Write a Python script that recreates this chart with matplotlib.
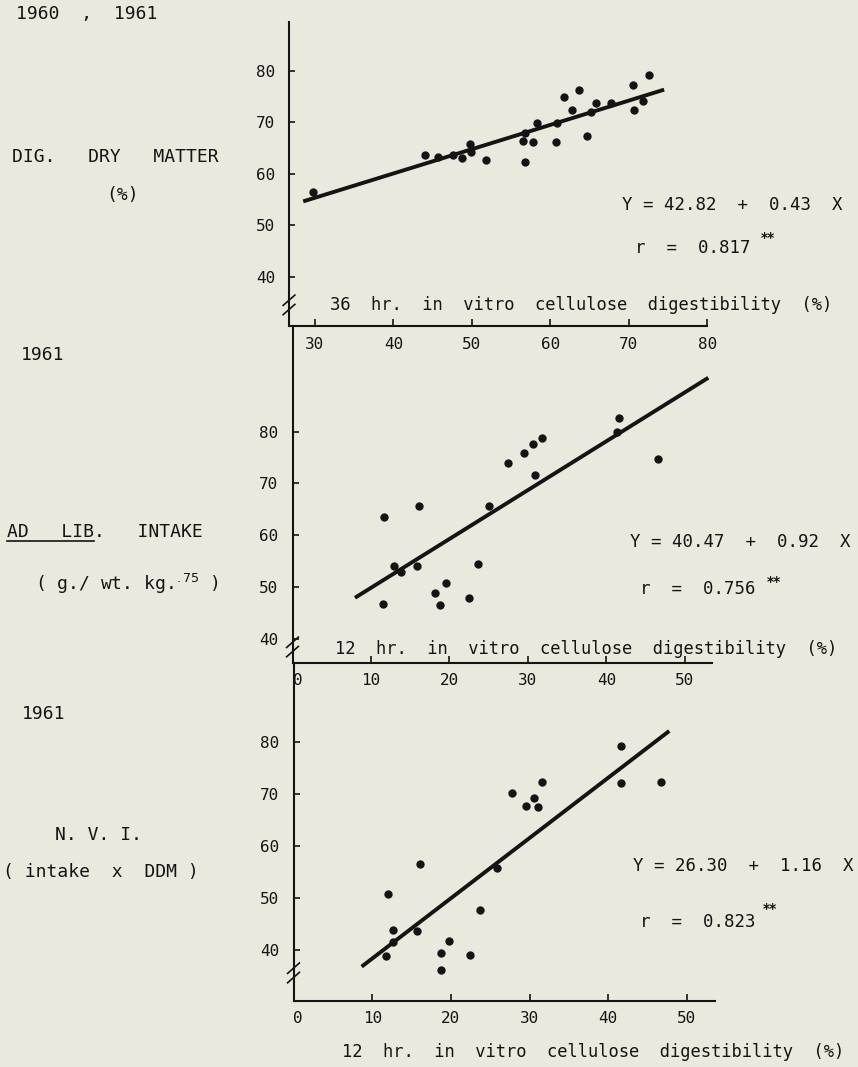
import matplotlib
matplotlib.use('Agg')
import matplotlib.pyplot as plt
from matplotlib.lines import Line2D

plt.rcParams['font.family'] = ['DejaVu Sans Mono', 'DejaVu Sans']

# ---------------- data ----------------
# Panel 1: DIG. DRY MATTER vs 36 hr in vitro cellulose digestibility
ddm_x = [29.8, 44.0, 45.7, 47.6, 48.8, 49.8, 49.85, 51.8, 56.5, 56.8, 56.8, 57.8, 58.3,
         60.7, 60.8, 61.7, 62.8, 63.7, 64.7, 65.2, 65.8, 67.7, 70.5, 70.6, 71.8, 72.6]
ddm_y = [56.4, 63.6, 63.2, 63.7, 63.1, 65.8, 64.2, 62.6, 66.3, 62.2, 67.9, 66.1, 69.8,
         66.1, 69.8, 74.95, 72.4, 76.2, 67.3, 71.9, 73.8, 73.7, 77.2, 72.4, 74.1, 79.1]
ddm_fit_x = [28.5, 74.5]
ddm_fit_y = [54.6, 76.3]

# Panel 2: AD LIB. INTAKE vs 12 hr in vitro cellulose digestibility
intake_x = [11.7, 11.57, 12.9, 13.8, 16.1, 15.9, 18.2, 18.8, 19.6, 22.5, 23.6, 25.0,
            27.4, 29.5, 30.6, 31.8, 30.9, 41.6, 41.3, 46.6]
intake_y = [63.5, 46.7, 54.1, 52.9, 65.7, 54.0, 48.8, 46.6, 50.7, 47.8, 54.4, 65.6,
            73.9, 75.9, 77.7, 78.8, 71.6, 82.6, 80.0, 74.7]
intake_fit_x = [7.96, 52.97]
intake_fit_y = [47.9, 90.4]

# Panel 3: N.V.I. vs 12 hr in vitro cellulose digestibility
nvi_x = [11.97, 16.07, 12.6, 12.6, 11.75, 15.65, 18.7, 18.8, 19.76, 22.4, 23.7, 25.8,
         27.8, 29.6, 30.6, 31.07, 31.6, 41.65, 41.6, 46.7]
nvi_y = [50.7, 56.6, 43.8, 41.6, 38.9, 43.7, 39.4, 36.2, 41.7, 39.1, 47.6, 55.7,
         70.2, 67.7, 69.25, 67.4, 72.3, 79.2, 72.1, 72.3]
nvi_fit_x = [8.66, 47.75]
nvi_fit_y = [36.8, 82.05]

y_ticks = [40, 50, 60, 70, 80]
x_ticks_36 = [30, 40, 50, 60, 70, 80]
x_ticks_12 = [0, 10, 20, 30, 40, 50]

eq1 = "Y = 42.82  +  0.43  X"
eq2 = "Y = 40.47  +  0.92  X"
eq3 = "Y = 26.30  +  1.16  X"
r1 = "r  =  0.817"
r2 = "r  =  0.756"
r3 = "r  =  0.823"
title36 = ["36", "hr.", "in", "vitro", "cellulose", "digestibility", "(%)"]
title12 = ["12", "hr.", "in", "vitro", "cellulose", "digestibility", "(%)"]

# ---------------- figure ----------------
W, H = 858, 1067
BG = '#ebe9dd'
INK = '#141414'
fig = plt.figure(figsize=(W / 100, H / 100), dpi=100, facecolor=BG)
renderer = fig.canvas.get_renderer()


def rect(left, right, top, bottom):
    return [left / W, 1 - bottom / H, (right - left) / W, (bottom - top) / H]


def fx(px):
    return px / W


def fy(py):
    return 1 - py / H


def fit_text(x0, x1, py, words, kmax=3, **kw):
    """Join words with the number of spaces that best fills x0..x1 (pixels)."""
    target = x1 - x0
    best = None
    for k in range(1, kmax + 1):
        s = (' ' * k).join(words)
        t = fig.text(0, 0, s, **kw)
        w = t.get_window_extent(renderer).width
        t.remove()
        if best is None or abs(w - target) < best[0]:
            best = (abs(w - target), s, k)
    ha = kw.pop('ha', 'left')
    xa = {'left': x0, 'center': (x0 + x1) / 2, 'right': x1}[ha]
    fig.text(fx(xa), fy(py), best[1], ha=ha, **kw)
    return best[2]


def style(ax, xlim, ylim, xticks, xpad, brk):
    ax.set_facecolor('none')
    ax.set_xlim(*xlim)
    ax.set_ylim(*ylim)
    for s in ('top', 'right'):
        ax.spines[s].set_visible(False)
    for s in ('left', 'bottom'):
        ax.spines[s].set_linewidth(1.5)
        ax.spines[s].set_color(INK)
    ax.set_yticks(y_ticks)
    ax.set_xticks(xticks)
    ax.tick_params(axis='y', direction='in', length=4, width=1.2, pad=10,
                   labelsize=11.5, colors=INK)
    ax.tick_params(axis='x', direction='in', length=5, width=1.2, pad=xpad,
                   labelsize=11.5, colors=INK)
    tr = ax.get_yaxis_transform()
    for off in (-0.9, 0.9):
        ax.plot([-0.014, 0.014], [brk - 1.0 + off, brk + 1.0 + off], color=INK,
                lw=1.2, transform=tr, clip_on=False)


MS = 6.0
# Panel 1
ax1 = fig.add_axes(rect(289, 707.3, 21.7, 326))
style(ax1, (26.69, 80.0), (30.4, 89.5), x_ticks_36, 8, 34.5)
ax1.plot(ddm_x, ddm_y, 'o', color=INK, ms=MS, mew=0)
ax1.plot(ddm_fit_x, ddm_fit_y, color=INK, lw=2.8, solid_capstyle='butt')

# Panel 2
ax2 = fig.add_axes(rect(292.5, 712, 326, 663))
style(ax2, (0, 53.44), (35.3, 100.4), x_ticks_12, 7.5, 38.4)
ax2.plot(intake_x, intake_y, 'o', color=INK, ms=MS, mew=0)
ax2.plot(intake_fit_x, intake_fit_y, color=INK, lw=2.8, solid_capstyle='butt')

# Panel 3
ax3 = fig.add_axes(rect(293.5, 715, 663, 1001))
style(ax3, (0, 53.56), (30.2, 95.1), x_ticks_12, 7.5, 35.6)
ax3.plot(nvi_x, nvi_y, 'o', color=INK, ms=MS, mew=0)
ax3.plot(nvi_fit_x, nvi_fit_y, color=INK, lw=2.8, solid_capstyle='butt')

for ax in (ax2, ax3):
    lbl = ax.get_xticklabels()
    lbl[0].set_horizontalalignment('left')

# x-axis titles
xt_kw = dict(fontsize=12.3, color=INK, va='center')
fit_text(330, 845, 305, title36, **xt_kw)
fit_text(335, 848, 649, title12, **xt_kw)
fit_text(342, 845, 1052, title12, **xt_kw)

# left labels
lk = dict(fontsize=13, color=INK, va='center')
fit_text(16, 150, 14, ["1960", ",", "1961"], **lk)
fit_text(12, 227, 157, ["DIG.", "DRY", "MATTER"], **lk)
fig.text(fx(123), fy(195), "(%)", ha='center', **lk)
fig.text(fx(21), fy(355), "1961", ha='left', **lk)
k = fit_text(7, 195, 532, ["AD", "LIB.", "INTAKE"], **lk)
t_tmp = fig.text(0, 0, "AD" + " " * k + "LIB", **lk)
ul_w = t_tmp.get_window_extent(renderer).width
t_tmp.remove()
fig.add_artist(Line2D([fx(7), fx(7 + ul_w)], [fy(541), fy(541)], color=INK, lw=1.2))
fig.text(fx(127), fy(584), "( g./ wt. kg.$^{.75}$ )", ha='center', **lk)
fig.text(fx(22), fy(714), "1961", ha='left', **lk)
fit_text(55, 137, 835, ["N.", "V.", "I."], **lk)
fit_text(3, 200, 872, ["( intake", "x", "DDM )"], **lk)

# regression equations
ek = dict(fontsize=12.5, color=INK, ha='left', va='center')
sk = dict(fontsize=10, color=INK, ha='left', va='center', fontweight='bold',
          family='DejaVu Sans')
fig.text(fx(622), fy(205), eq1, **ek)
fig.text(fx(635), fy(248), r1, **ek)
fig.text(fx(761), fy(238), "**", **sk)

fig.text(fx(630), fy(542), eq2, **ek)
fig.text(fx(640), fy(589), r2, **ek)
fig.text(fx(767), fy(582), "**", **sk)

fig.text(fx(633), fy(866), eq3, **ek)
fig.text(fx(640), fy(922), r3, **ek)
fig.text(fx(763), fy(909), "**", **sk)

fig.savefig('out.png', dpi=100, facecolor=BG)
